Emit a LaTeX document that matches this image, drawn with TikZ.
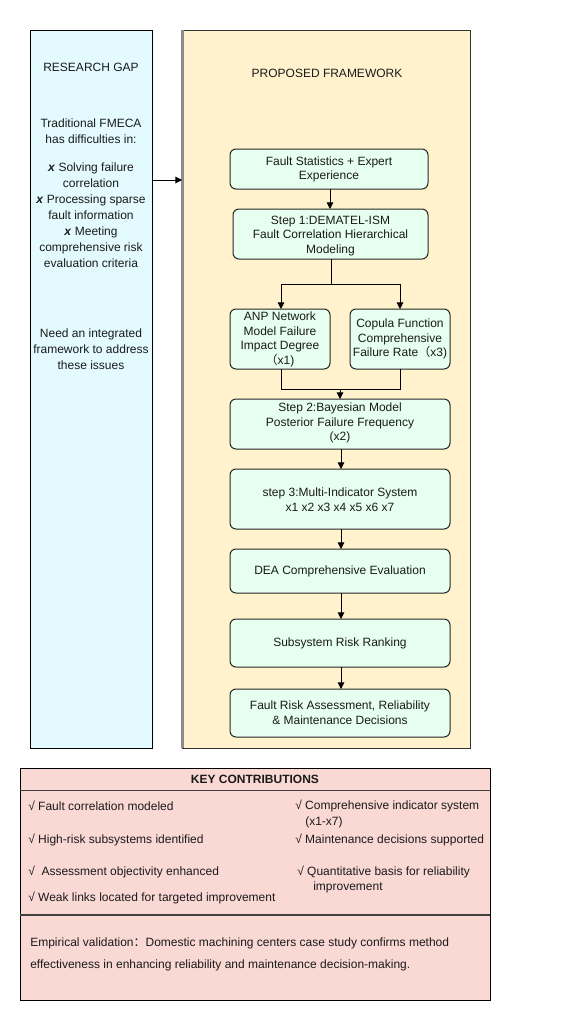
\documentclass[tikz,border=0pt]{standalone}
\usepackage{fontspec}
\setmainfont{Liberation Sans}
\newfontfamily\cjk{Noto Sans CJK SC}
\usetikzlibrary{arrows.meta}
\definecolor{gapblue}{HTML}{E3FBFF}
\definecolor{framey}{HTML}{FFF2CC}
\definecolor{mint}{HTML}{E6FFEF}
\definecolor{pinkc}{HTML}{FAD9D5}
\definecolor{txt}{HTML}{1A1A1A}
\tikzset{
  px/.style={x=0.75pt,y=-0.75pt},
  stepbox/.style={draw=black!85,fill=mint,rounded corners=4.5pt,line width=0.75pt},
  lbl/.style={inner sep=0pt,align=center,font=\fontsize{9}{12}\selectfont,text=txt},
  blbl/.style={inner sep=0pt,align=center,font=\fontsize{9}{11}\selectfont,text=txt},
  llbl/.style={inner sep=0pt,anchor=west,align=left,font=\fontsize{9}{12}\selectfont,text=txt},
  conn/.style={line width=0.7pt,draw=black},
  arr/.style={conn,-{Triangle[length=5pt,width=5pt]}},
}
\begin{document}
\begin{tikzpicture}[px]
\useasboundingbox (0,0) rectangle (577,1022);
\fill[white] (0,0) rectangle (577,1022);
% left box
\draw[fill=gapblue,line width=0.75pt] (30,30) rectangle (152,748);
\node[coordinate] (gapR) at (152,180) {};
\node[lbl] (gt) at (91,67) {RESEARCH GAP};
\node[lbl,anchor=north] (gtxt) at (91,119) {Traditional FMECA\\has difficulties in:\\[9pt]
\textbf{\textit{x}} Solving failure\\correlation\\\textbf{\textit{x}} Processing sparse\\fault information\\\textbf{\textit{x}} Meeting\\comprehensive risk\\evaluation criteria};
\node[lbl] (need) at (91,349) {Need an integrated\\framework to address\\these issues};
% framework box
\draw[fill=framey,draw=black!80,line width=0.75pt] (182,30) rectangle (470,748);
\draw[draw=black!45,line width=1.6pt] (182.5,30) -- (182.5,748);
\node[coordinate] (fwL) at (182,180) {};
\draw[arr] (gapR) -- (fwL);
\node[lbl] (ft) at (327,73) {PROPOSED FRAMEWORK};
% boxes
\draw[stepbox] (230,149) rectangle (428,189);
\node[blbl] (t1) at (329,169.5) {Fault Statistics + Expert\\Experience};
\draw[stepbox] (233,209) rectangle (428,259);
\node[blbl] (t2) at (330.5,236) {Step 1:DEMATEL-ISM\\Fault Correlation Hierarchical\\Modeling};
\draw[stepbox] (230,309) rectangle (330,369);
\node[blbl] (t3) at (280,339.5) {ANP Network\\Model Failure\\Impact Degree\\{\cjk （}x1)};
\draw[stepbox] (350,309) rectangle (450,369);
\node[blbl] (t4) at (400,339) {Copula Function\\Comprehensive\\Failure Rate{\cjk （}x3)};
\draw[stepbox] (230,399) rectangle (450,449);
\node[blbl] (t5) at (340,423) {Step 2:Bayesian Model\\Posterior Failure Frequency\\(x2)};
\draw[stepbox] (230,469) rectangle (450,529);
\node[blbl] (t6) at (340,500) {step 3:Multi-Indicator System\\x1 x2 x3 x4 x5 x6 x7};
\draw[stepbox] (230,549) rectangle (450,593);
\node[blbl] (t7) at (340,571) {DEA Comprehensive Evaluation};
\draw[stepbox] (230,619) rectangle (450,667);
\node[blbl] (t8) at (340,643) {Subsystem Risk Ranking};
\draw[stepbox] (230,689) rectangle (450,737);
\node[blbl] (t9) at (340,713) {Fault Risk Assessment, Reliability\\\& Maintenance Decisions};
% connector coordinates
\node[coordinate] (b1b) at (330,189) {};
\node[coordinate] (b2t) at (330,209) {};
\node[coordinate] (b2b) at (331,259) {};
\node[coordinate] (sp) at (331,284) {};
\node[coordinate] (spl) at (281,284) {};
\node[coordinate] (spr) at (400,284) {};
\node[coordinate] (b3t) at (281,309) {};
\node[coordinate] (b4t) at (400,309) {};
\node[coordinate] (b3b) at (281,369) {};
\node[coordinate] (b4b) at (400,369) {};
\node[coordinate] (jl) at (281,389) {};
\node[coordinate] (jr) at (400,389) {};
\node[coordinate] (jm) at (340,389) {};
\node[coordinate] (b5t) at (340,399) {};
\draw[arr] (b1b) -- (b2t);
\draw[conn] (b2b) -- (sp);
\draw[arr] (sp) -- (spl) -- (b3t);
\draw[arr] (sp) -- (spr) -- (b4t);
\draw[conn] (b3b) -- (jl) -- (jr) -- (b4b);
\draw[arr] (jm) -- (b5t);
\foreach \a/\b in {449/469,529/549,593/619,667/689}{
  \node[coordinate] (u\a) at (341,\a) {};
  \node[coordinate] (d\b) at (341,\b) {};
  \draw[arr] (u\a) -- (d\b);
}
% key contributions
\draw[fill=pinkc,line width=0.75pt] (20,768) rectangle (490,1000);
\node[coordinate] (h1) at (20,790) {}; \node[coordinate] (h2) at (490,790) {};
\draw[draw=black!75,line width=0.7pt] (h1) -- (h2);
\node[coordinate] (h3) at (20,915) {}; \node[coordinate] (h4) at (490,915) {};
\draw[draw=black!75,line width=0.9pt] (h3) -- (h4);
\node[lbl,font=\fontsize{9}{12}\selectfont\bfseries] (kc) at (255,779) {KEY CONTRIBUTIONS};
\node[llbl] (k1) at (28,806) {√ Fault correlation modeled};
\node[llbl] (k2) at (28,840) {√ High-risk subsystems identified};
\node[llbl] (k3) at (28,872) {√\ \ Assessment objectivity enhanced};
\node[llbl] (k4) at (28,898) {√ Weak links located for targeted improvement};
\node[llbl] (k5) at (295,806) {√ Comprehensive indicator system};
\node[llbl] (k5b) at (305,822) {(x1-x7)};
\node[llbl] (k6) at (295,840) {√ Maintenance decisions supported};
\node[llbl] (k7) at (297,872) {√ Quantitative basis for reliability};
\node[llbl] (k7b) at (313,887) {improvement};
\node[llbl] (e1) at (30,943) {Empirical validation{\cjk ：}Domestic machining centers case study confirms method};
\node[llbl] (e2) at (30,965) {effectiveness in enhancing reliability and maintenance decision-making.};
\end{tikzpicture}
\end{document}
